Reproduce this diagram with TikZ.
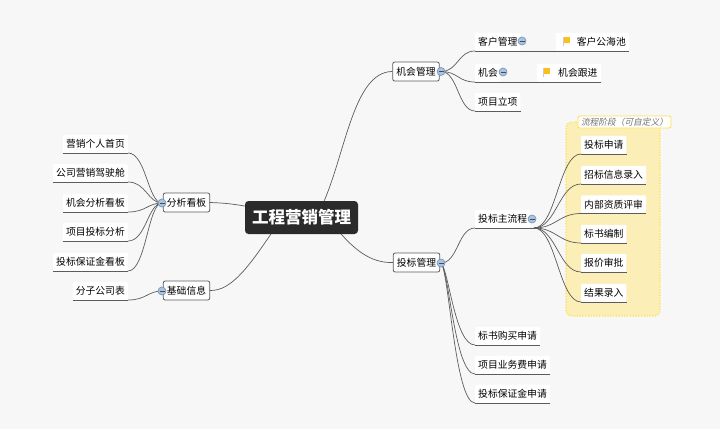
\documentclass[tikz,border=0pt]{standalone}
\usepackage{fontspec}
\setmainfont{Noto Sans CJK SC}
\newfontfamily\slantfont[FakeSlant=0.2]{Noto Sans CJK SC}
\usetikzlibrary{
  backgrounds,
}
\definecolor{pagegray}{HTML}{F7F7F7}
\definecolor{linegray}{HTML}{5C5C5C}
\definecolor{rootdark}{HTML}{2B2B2B}
\definecolor{stageyellow}{HTML}{FBEFB7}
\definecolor{stageedge}{HTML}{FFE04D}
\definecolor{foldblue}{HTML}{A9C3E0}
\definecolor{foldedge}{HTML}{6F8FB5}
\definecolor{flagyellow}{HTML}{FBBF1E}
\tikzset{
  root/.style={fill=rootdark, text=white, rounded corners=3.5pt, minimum width=113pt,
    minimum height=33pt, inner sep=0pt, font=\fontsize{16.5}{18}\selectfont\bfseries},
  topic/.style={draw=linegray, fill=white, rounded corners=2pt, line width=0.8pt, minimum width=46.5pt,
    minimum height=19pt, inner sep=0pt, font=\fontsize{9.8}{11}\selectfont},
  leaf/.style={fill=white, rounded corners=1pt, inner xsep=3pt, inner ysep=0pt, minimum height=18pt,
    font=\fontsize{9.8}{11}\selectfont},
  fold/.style={circle, draw=foldedge, fill=foldblue, line width=0.6pt, minimum size=8pt, inner sep=0pt,
    path picture={\draw [line width=0.8pt, black!70] ([xshift=-2.5pt]path picture bounding box.center)
      -- ([xshift=2.5pt]path picture bounding box.center);}},
  link/.style={draw=linegray, line width=0.7pt},
  stem/.style={draw=linegray, line width=0.9pt},
  stagetag/.style={draw=stageedge, fill=white, rounded corners=2pt, line width=0.8pt, inner xsep=3pt,
    inner ysep=0pt, minimum height=12pt, text=black!55, font=\fontsize{8.7}{10}\slantfont},
}

\begin{document}
\begin{tikzpicture}[x=1pt, y=-1pt]

        \useasboundingbox (0,0) rectangle (720,429);

        \node [root] (gcyx) at (301.5,217.5) {工程营销管理};

        \node [topic] (jhgl) at (416,71.5) {机会管理};
        \node [topic] (tbgl) at (416.5,262.5) {投标管理};
        \node [topic] (fxkb) at (186.5,202.5) {分析看板};
        \node [topic] (jcxx) at (186.5,290.5) {基础信息};

        % right side
        \foreach \name/\txt/\y in {khgl/客户管理/51, jihui/机会/82, xmlx/项目立项/111,
                                   tbzlc/投标主流程/228, bsgm/标书购买申请/345,
                                   ywfy/项目业务费申请/374, bzjsq/投标保证金申请/403} {
          \node [leaf, anchor=south west] (\name) at (475,\y) {\txt};
        }

        \node [leaf, anchor=south east, minimum width=73pt] (khgh) at (629,51) {\hspace{18pt}客户公海池};
        \node [leaf, anchor=south east, minimum width=64pt] (jhgj) at (601,82) {\hspace{18pt}机会跟进};

        % stage items
        \foreach \name/\txt/\y in {tbsq/投标申请/154, zbxx/招标信息录入/184, nbzz/内部资质评审/213.5,
                                   bsbz/标书编制/243, bjsp/报价审批/272, jglr/结果录入/302} {
          \node [leaf, anchor=south west] (\name) at (581,\y) {\txt};
        }

        % left side
        \foreach \name/\txt/\y in {yxsy/营销个人首页/153, yxjsc/公司营销驾驶舱/182, jhfx/机会分析看板/212,
                                   xmfx/项目投标分析/241, bzjkb/投标保证金看板/271, fzgs/分子公司表/300} {
          \node [leaf, anchor=south east] (\name) at (128,\y) {\txt};
        }

        \node [fold] (jhglfold) at (441,71.5) {};
        \node [fold] (tbglfold) at (441,263) {};
        \node [fold] (fxkbfold) at (162,203) {};
        \node [fold] (jcxxfold) at (162,291) {};
        \node [fold] (khglfold) at (522,41) {};
        \node [fold] (jihuifold) at (503,72) {};
        \node [fold] (tbzlcfold) at (532,219) {};

        \coordinate (tbjoin) at (534,228);
        \coordinate (rootup) at (320,210);
        \coordinate (rootdown) at (336,228);
        \coordinate (rootleft) at (255,208);
        \coordinate (rootlow) at (275,228);

        \begin{scope}[on background layer]
          \fill [pagegray] (0,0) rectangle (720,429);
          \draw [stageedge, fill=stageyellow, rounded corners=6pt, line width=1.2pt,
                 dash pattern=on 1.2pt off 1.6pt]
                (566,122) rectangle (660,316);

          \draw [link] (rootup) .. controls (345,160) and (352,71.5) .. (jhgl.west);
          \draw [link] (rootdown) .. controls (358,255) and (375,263) .. (tbgl.west);
          \draw [link] (rootleft) .. controls (235,204) and (225,203) .. (fxkb.east);
          \draw [link] (rootlow) .. controls (250,265) and (232,291) .. (jcxx.east);

          % fold icon to leaf
          \foreach \name in {khgl,jihui,xmlx} {
            \draw [link] (jhglfold.center) .. controls +(17,0) and +(-17,0) .. (\name.south west);
          }

          \draw [link] (tbglfold.center) .. controls +(17,0) and +(-17,0) .. (tbzlc.south west);
          \foreach \name in {bsgm,ywfy,bzjsq} {
            \draw [link] (tbglfold.center) .. controls +(8,8) and +(-20,0) .. (\name.south west);
          }

          \foreach \name in {tbsq,zbxx,nbzz,bsbz,bjsp,jglr} {
            \draw [link] (tbjoin) .. controls +(22,0) and +(-22,0) .. (\name.south west);
          }

          \foreach \name in {yxsy,yxjsc,jhfx,xmfx,bzjkb} {
            \draw [link] (\name.south east) .. controls +(18,0) and +(-14,0) .. (fxkbfold.center);
          }
          \draw [link] (fzgs.south east) .. controls +(18,0) and +(-14,0) .. (jcxxfold.center);
        \end{scope}

        % underlines
        \foreach \name in {xmlx,tbsq,zbxx,nbzz,bsbz,bjsp,jglr,bsgm,ywfy,bzjsq,yxsy,yxjsc,jhfx,xmfx,bzjkb,fzgs} {
          \draw [stem] (\name.south west) -- (\name.south east);
        }
        \draw [stem] (khgl.south west) -- (khgh.south east);
        \draw [stem] (jihui.south west) -- (jhgj.south east);
        \draw [stem] (tbzlc.south west) -- (tbjoin);

        \foreach \x/\y in {563/37, 543/68} {
          \fill [black!20] (\x-0.5,\y) rectangle (\x+0.5,\y+9);
          \fill [flagyellow] (\x+0.5,\y) rectangle (\x+7,\y+6);
        }

        \node [stagetag] (stagename) at (624.5,122) {流程阶段（可自定义）};

      \end{tikzpicture}
\end{document}
